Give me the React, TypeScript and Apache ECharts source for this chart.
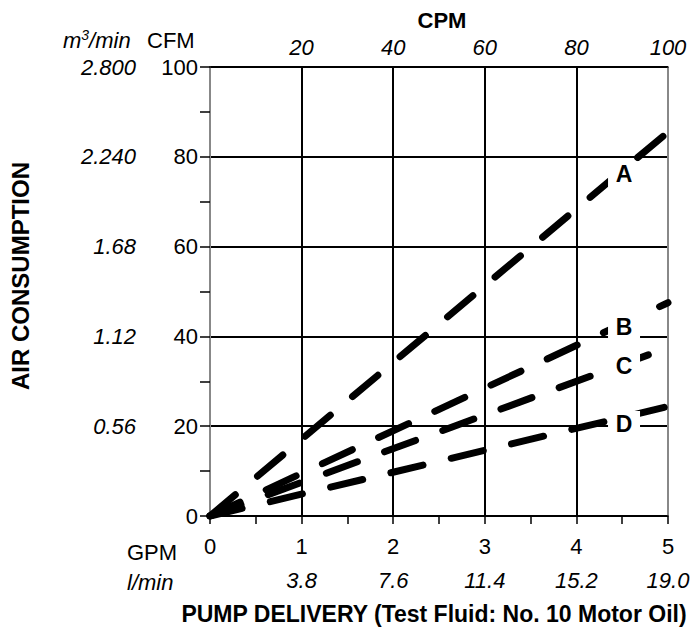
import React, { useEffect, useRef } from "react";
import * as echarts from "echarts";

const gpmLabels = ["0", "1", "2", "3", "4", "5"];
const lminLabels = ["", "3.8", "7.6", "11.4", "15.2", "19.0"];
const cpmLabels = ["", "20", "40", "60", "80", "100"];
const cfmLabels = ["0", "20", "40", "60", "80", "100"];
const m3Labels = ["", "0.56", "1.12", "1.68", "2.240", "2.800"];

const seriesNames = ["A", "B", "C", "D"];
const gpmX = [0, 5];
const cfmA = [0, 85.5];
const cfmB = [0, 47.5];
const cfmC = [0, 37.5];
const cfmD = [0, 24.4];
const labelX = [4.52, 4.52, 4.52, 4.52];
const labelY = [76.1, 42.2, 33.3, 20.5];

const FONT = "'Liberation Sans', Arial, Helvetica, sans-serif";

export default function App() {
  const ref = useRef<HTMLDivElement>(null);
  useEffect(() => {
    if (!ref.current) return;
    const chart = echarts.init(ref.current, undefined, { renderer: "svg" });
    const values = [cfmA, cfmB, cfmC, cfmD];
    const lineSeries = seriesNames.map((n, i) => ({
      name: n,
      type: "line",
      xAxisIndex: 0,
      yAxisIndex: 0,
      symbol: "none",
      data: gpmX.map((x, j) => [x, values[i][j]]),
      lineStyle: { color: "#000", width: 7, type: [33, 29], cap: "round" },
      z: 3,
    }));
    chart.setOption({
      animation: false,
      textStyle: { fontFamily: FONT },
      grid: { left: 210, right: 30, top: 67, bottom: 113 },
      xAxis: [
        {
          type: "value",
          position: "bottom",
          min: 0,
          max: 5,
          interval: 1,
          axisLine: { show: true, onZero: false, lineStyle: { color: "#000", width: 1.5 } },
          axisTick: { show: true, length: 8, lineStyle: { color: "#000", width: 1.5 } },
          minorTick: { show: true, splitNumber: 2, length: 8, lineStyle: { color: "#000", width: 1.5 } },
          splitLine: {
            show: true,
            lineStyle: { color: ["#888", "#000", "#000", "#000", "#000", "#888"], width: 2 },
          },
          axisLabel: {
            fontSize: 22,
            color: "#000",
            margin: 19,
            fontFamily: FONT,
            formatter: (v: number) => gpmLabels[Math.round(v)] ?? "",
          },
        },
        {
          type: "value",
          position: "top",
          min: 0,
          max: 100,
          interval: 20,
          axisLine: { show: true, onZero: false, lineStyle: { color: "#000", width: 1.5 } },
          axisTick: { show: false },
          splitLine: { show: false },
          axisLabel: {
            fontSize: 22,
            fontStyle: "italic",
            color: "#000",
            margin: 9,
            fontFamily: FONT,
            formatter: (v: number) => cpmLabels[Math.round(v / 20)] ?? "",
          },
        },
        {
          type: "value",
          position: "bottom",
          offset: 41,
          min: 0,
          max: 5,
          interval: 1,
          axisLine: { show: false },
          axisTick: { show: false },
          splitLine: { show: false },
          axisLabel: {
            fontSize: 22,
            fontStyle: "italic",
            color: "#000",
            margin: 12,
            fontFamily: FONT,
            formatter: (v: number) => lminLabels[Math.round(v)] ?? "",
          },
        },
      ],
      yAxis: [
        {
          type: "value",
          position: "left",
          min: 0,
          max: 100,
          interval: 20,
          axisLine: { show: true, onZero: false, lineStyle: { color: "#888", width: 2 } },
          axisTick: { show: true, length: 10, lineStyle: { color: "#000", width: 1.5 } },
          minorTick: { show: true, splitNumber: 2, length: 10, lineStyle: { color: "#000", width: 1.5 } },
          splitLine: { show: true, lineStyle: { color: "#000", width: 2 } },
          axisLabel: {
            fontSize: 22,
            color: "#000",
            margin: 12,
            fontFamily: FONT,
            formatter: (v: number) => cfmLabels[Math.round(v / 20)] ?? "",
          },
        },
        {
          type: "value",
          position: "left",
          offset: 70,
          min: 0,
          max: 100,
          interval: 20,
          axisLine: { show: false },
          axisTick: { show: false },
          splitLine: { show: false },
          axisLabel: {
            fontSize: 22,
            fontStyle: "italic",
            color: "#000",
            margin: 4,
            fontFamily: FONT,
            formatter: (v: number) => m3Labels[Math.round(v / 20)] ?? "",
          },
        },
      ],
      series: [
        ...lineSeries,
        {
          type: "scatter",
          xAxisIndex: 0,
          yAxisIndex: 0,
          symbol: "rect",
          symbolSize: [32, 26],
          itemStyle: { color: "#fff", opacity: 1 },
          emphasis: { disabled: true },
          data: seriesNames.map((n, i) => [labelX[i], labelY[i], n]),
          label: {
            show: true,
            position: "inside",
            formatter: (p: any) => p.data[2],
            fontSize: 23,
            fontWeight: "bold",
            color: "#000",
            textBorderWidth: 0,
            fontFamily: FONT,
          },
          z: 10,
        },
      ],
      graphic: [
        {
          type: "text",
          x: 442,
          y: 20,
          style: { text: "CPM", font: `bold 22px ${FONT}`, fill: "#000", align: "center", verticalAlign: "middle" },
        },
        {
          type: "text",
          x: 63,
          y: 40,
          style: {
            text: "{i|m}{s|3}{i|/min}",
            verticalAlign: "middle",
            rich: {
              i: { font: `italic 22px ${FONT}`, fill: "#000" },
              s: { font: `italic 14px ${FONT}`, fill: "#000", padding: [0, 0, 10, 0] },
            },
          },
        },
        {
          type: "text",
          x: 147,
          y: 40,
          style: { text: "CFM", font: `22px ${FONT}`, fill: "#000", verticalAlign: "middle" },
        },
        {
          type: "text",
          x: 127,
          y: 552,
          style: { text: "GPM", font: `22px ${FONT}`, fill: "#000", verticalAlign: "middle" },
        },
        {
          type: "text",
          x: 127,
          y: 582,
          style: { text: "l/min", font: `italic 22px ${FONT}`, fill: "#000", verticalAlign: "middle" },
        },
        {
          type: "text",
          x: 434,
          y: 614,
          style: {
            text: "PUMP DELIVERY (Test Fluid: No. 10 Motor Oil)",
            font: `bold 23px ${FONT}`,
            fill: "#000",
            align: "center",
            verticalAlign: "middle",
          },
        },
        {
          type: "text",
          x: 20,
          y: 276,
          rotation: Math.PI / 2,
          style: {
            text: "AIR CONSUMPTION",
            font: `bold 24px ${FONT}`,
            fill: "#000",
            align: "center",
            verticalAlign: "middle",
          },
        },
      ],
    });
    return () => chart.dispose();
  }, []);
  return (
    <div
      ref={ref}
      style={{ position: "absolute", left: 0, top: 0, width: 698, height: 629 }}
    />
  );
}
